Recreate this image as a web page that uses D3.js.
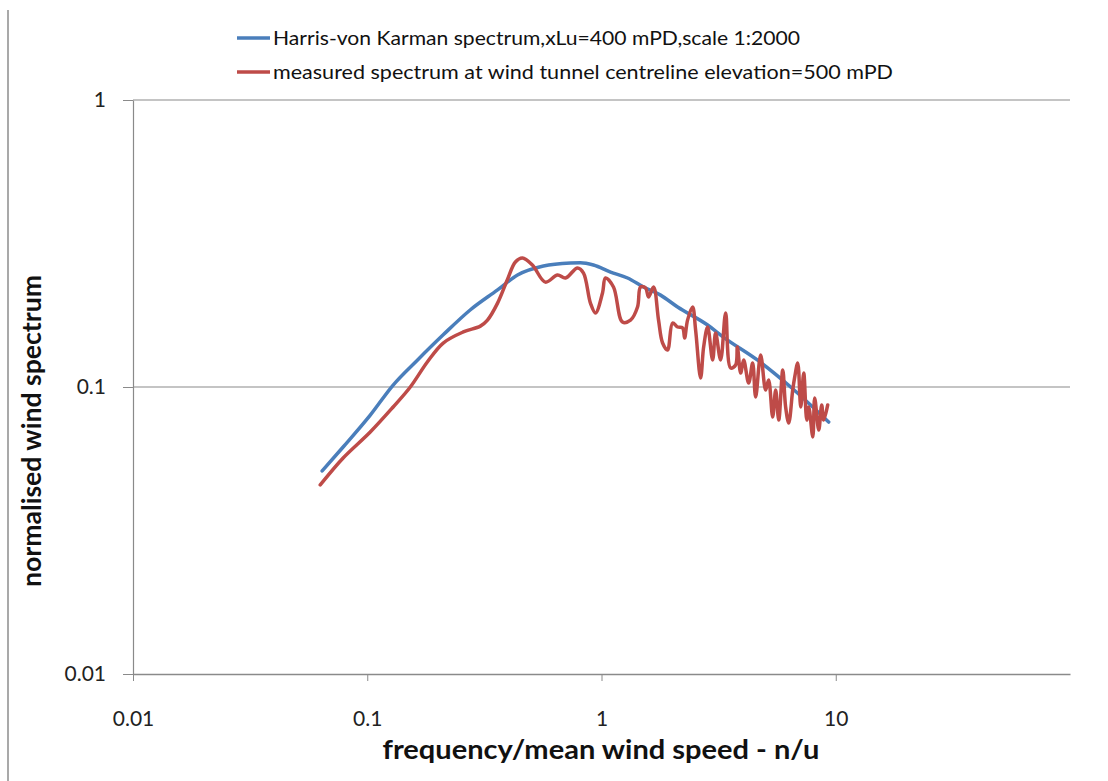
<!DOCTYPE html>
<html>
<head>
<meta charset="utf-8">
<script src="https://cdn.jsdelivr.net/npm/d3@7"></script>
<style>
  body { margin: 0; background: #fff; }
  svg text { font-family: Lato, "Open Sans", sans-serif; }
</style>
</head>
<body>
<div id="chart"></div>
<script>
// spectrum chart - normalised wind spectrum vs n/u, log-log

// Harris-von Karman
const hvkX = [0.0642, 0.0789, 0.103, 0.129, 0.1636, 0.211, 0.275, 0.36, 0.438, 0.565, 0.737, 0.813, 0.924, 1.093, 1.292, 1.512, 1.787, 2.113, 2.838, 3.323, 4.64, 6.42, 9.33];
const hvkY = [0.051, 0.0618, 0.0798, 0.1016, 0.124, 0.152, 0.1855, 0.218, 0.2456, 0.264, 0.2704, 0.271, 0.266, 0.2515, 0.2398, 0.223, 0.209, 0.19, 0.1644, 0.149, 0.124, 0.1, 0.0755];

// measured at centreline
const measX = [0.063, 0.0789, 0.103, 0.129, 0.1527, 0.1805, 0.211, 0.257, 0.304, 0.326, 0.36, 0.396, 0.429, 0.46, 0.507, 0.576, 0.649, 0.702, 0.79, 0.838,
  0.897, 0.943, 1.01, 1.04, 1.125, 1.229, 1.33, 1.425,
  1.468, 1.542, 1.588, 1.668, 1.752, 1.823, 1.914, 2.011, 2.113, 2.22, 2.263, 2.33, 2.448, 2.522, 2.649, 2.729, 2.838, 2.981, 3.07, 3.225, 3.388, 3.558, 3.738,
  3.802, 3.927, 4.045, 4.248, 4.418, 4.55, 4.78, 5.02, 5.17, 5.38, 5.54, 5.71, 5.94, 6.11, 6.3, 6.55, 6.68, 6.88, 7.09, 7.3, 7.52, 7.67, 7.98, 8.13, 8.46, 8.71, 8.88, 9.24];
const measY = [0.0456, 0.0566, 0.0697, 0.0852, 0.1, 0.1222, 0.1423, 0.1555, 0.163, 0.171, 0.196, 0.236, 0.2726, 0.2815, 0.266, 0.232, 0.2456, 0.2398, 0.26, 0.2495,
  0.196, 0.181, 0.2127, 0.2398, 0.223, 0.1684, 0.171, 0.19,
  0.223, 0.2213, 0.206, 0.223, 0.171, 0.1423, 0.1345, 0.167, 0.1618, 0.1606, 0.1482, 0.171, 0.19, 0.158, 0.1075, 0.1378, 0.1618, 0.1242, 0.1542, 0.1242, 0.181, 0.1165, 0.1193,
  0.1378, 0.1119, 0.1242, 0.1032, 0.1212, 0.0923, 0.1293, 0.0976, 0.1058, 0.0786, 0.0976, 0.0767, 0.1146, 0.0852, 0.0749, 0.0976, 0.1083, 0.1212, 0.0852, 0.1119, 0.0767, 0.0852, 0.067, 0.0916, 0.0708, 0.0866, 0.0767, 0.0866];

const xTicks = [0.01, 0.1, 1, 10];
const yTicks = [0.01, 0.1, 1];
const legendLabels = ["Harris-von Karman spectrum,xLu=400 mPD,scale 1:2000",
                      "measured spectrum at wind tunnel centreline elevation=500 mPD"];
const seriesColors = ["#4a7ebb", "#be4b48"];

const W = 1108, H = 781;

const svg = d3.select("#chart").append("svg")
  .attr("width", W)
  .attr("height", H);

// outer chart border (only the left edge shows)
svg.append("line")
  .attr("x1", 8).attr("x2", 8)
  .attr("y1", 10).attr("y2", H)
  .attr("stroke", "#8c8c8c").attr("stroke-width", 1.5);

const x = d3.scaleLog().domain([0.01, 100]).range([133, 1070]);
const y = d3.scaleLog().domain([0.01, 1]).range([674, 100]);

// horizontal gridlines
svg.append("g")
  .selectAll("line")
  .data(yTicks.slice(1))
  .enter()
  .append("line")
  .attr("x1", x(0.01)).attr("x2", x(100))
  .attr("y1", d => y(d)).attr("y2", d => y(d))
  .attr("stroke", "#8a8a8a").attr("stroke-width", 1.2);

// X axis
const xAxis = svg.append("g")
  .attr("transform", `translate(0, ${y(0.01)})`)
  .call(d3.axisBottom(x).tickValues(xTicks).tickFormat(d3.format("~g")).tickSize(7).tickSizeOuter(0).tickPadding(30));
xAxis.select(".domain").attr("stroke", "#8a8a8a").attr("stroke-width", 1.5);
xAxis.selectAll(".tick line").attr("stroke", "#8a8a8a");
xAxis.selectAll(".tick text").attr("font-size", 21).attr("fill", "#222");

// Y axis
const yAxis = svg.append("g")
  .attr("transform", `translate(${x(0.01)}, 0)`)
  .call(d3.axisLeft(y).tickValues(yTicks).tickFormat(d3.format("~g")).tickSize(10).tickSizeOuter(0).tickPadding(17));
yAxis.select(".domain").attr("stroke", "#8a8a8a").attr("stroke-width", 1.2);
yAxis.selectAll(".tick line").attr("stroke", "#8a8a8a");
yAxis.selectAll(".tick text").attr("font-size", 21).attr("fill", "#222");

// lines
const line = d3.line()
  .x(d => x(d[0]))
  .y(d => y(d[1]));

const series = [
  { pts: d3.zip(hvkX, hvkY), curve: d3.curveMonotoneX },
  { pts: d3.zip(measX, measY), curve: d3.curveCatmullRom.alpha(0.5) }
];

svg.append("g")
  .selectAll("path")
  .data(series)
  .enter()
  .append("path")
  .attr("d", d => line.curve(d.curve)(d.pts))
  .attr("fill", "none")
  .attr("stroke", (d, i) => seriesColors[i])
  .attr("stroke-width", 3.5)
  .attr("stroke-linejoin", "round")
  .attr("stroke-linecap", "round");

// legend
const legendW = [527, 620];
const leg = svg.append("g").selectAll("g")
  .data(legendLabels)
  .enter()
  .append("g")
  .attr("transform", (d, i) => `translate(237, ${38 + i * 34})`);
leg.append("line")
  .attr("x1", 0).attr("x2", 33)
  .attr("stroke", (d, i) => seriesColors[i])
  .attr("stroke-width", 3.5);
leg.append("text")
  .attr("x", 36)
  .attr("dy", "0.35em")
  .attr("font-size", 20)
  .attr("fill", "#111")
  .attr("textLength", (d, i) => legendW[i])
  .attr("lengthAdjust", "spacingAndGlyphs")
  .text(d => d);

// axis titles
svg.append("text")
  .attr("x", 601).attr("y", 759)
  .attr("text-anchor", "middle")
  .attr("font-size", 26).attr("font-weight", "bold").attr("fill", "#111")
  .attr("textLength", 437).attr("lengthAdjust", "spacingAndGlyphs")
  .text("frequency/mean wind speed - n/u");

svg.append("text")
  .attr("transform", "translate(41, 431) rotate(-90)")
  .attr("text-anchor", "middle")
  .attr("font-size", 26).attr("font-weight", "bold").attr("fill", "#111")
  .attr("textLength", 312).attr("lengthAdjust", "spacingAndGlyphs")
  .text("normalised wind spectrum");
</script>
</body>
</html>
